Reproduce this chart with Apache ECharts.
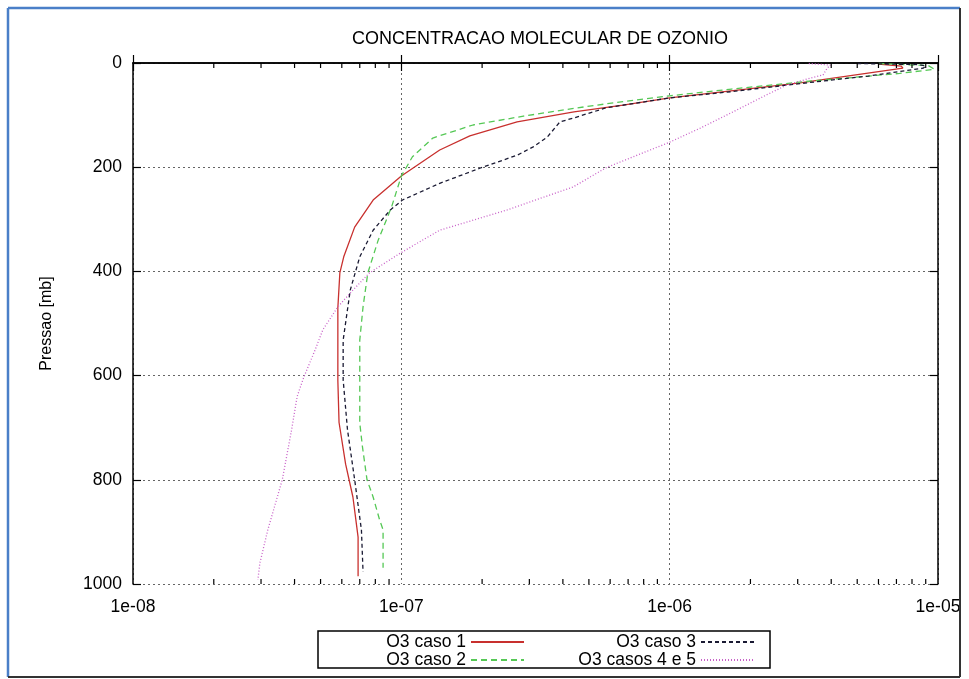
<!DOCTYPE html>
<html><head><meta charset="utf-8">
<script src="https://cdn.jsdelivr.net/npm/echarts@6/dist/echarts.min.js"></script>
<style>html,body{margin:0;padding:0;background:#fff}#c{width:969px;height:679px}</style>
</head><body><div id="c"></div>
<script>
const titleText = 'CONCENTRACAO MOLECULAR DE OZONIO';
const yAxisName = 'Pressao [mb]';
const xTickValues = [1e-8, 1e-7, 1e-6, 1e-5];
const xTickLabels = ['1e-08', '1e-07', '1e-06', '1e-05'];
const xMinorTicks = [2e-8,3e-8,4e-8,5e-8,6e-8,7e-8,8e-8,9e-8,
                     2e-7,3e-7,4e-7,5e-7,6e-7,7e-7,8e-7,9e-7,
                     2e-6,3e-6,4e-6,5e-6,6e-6,7e-6,8e-6,9e-6];
const seriesNames = ['O3 caso 1', 'O3 caso 2', 'O3 caso 3', 'O3 casos 4 e 5'];

const caso1P = [2, 6, 10, 20, 38, 50, 67, 81, 94, 113, 140, 167, 217, 263, 315, 372, 403, 470, 540, 610, 690, 770, 833, 910, 985];
const caso1X = [6.0e-6, 7.3e-6, 7.4e-6, 5.4e-6, 3.06e-6, 1.93e-6, 1.0e-6, 6.7e-7, 4.4e-7, 2.7e-7, 1.8e-7, 1.39e-7, 1.0e-7, 7.85e-8, 6.7e-8, 6.1e-8, 5.9e-8, 5.8e-8, 5.8e-8, 5.8e-8, 5.86e-8, 6.2e-8, 6.6e-8, 6.9e-8, 6.9e-8];

const caso2P = [1, 5, 12, 20, 35, 50, 63, 74, 87, 102, 119, 144, 180, 217, 276, 340, 403, 468, 532, 608, 691, 736, 800, 833, 877, 896, 969];
const caso2X = [6.0e-6, 9.2e-6, 9.7e-6, 7.2e-6, 3.3e-6, 1.7e-6, 1.0e-6, 6.7e-7, 4.4e-7, 2.85e-7, 1.85e-7, 1.31e-7, 1.1e-7, 1.0e-7, 9.2e-8, 8.2e-8, 7.5e-8, 7.2e-8, 7.0e-8, 7.0e-8, 7.0e-8, 7.16e-8, 7.45e-8, 7.85e-8, 8.3e-8, 8.55e-8, 8.55e-8];

const caso3P = [1, 3, 6, 10, 25, 40, 55, 67, 86, 106, 113, 142, 161, 177, 202, 231, 263, 282, 321, 372, 436, 532, 608, 704, 800, 896, 977];
const caso3X = [5.0e-6, 8.5e-6, 9.0e-6, 8.8e-6, 5.5e-6, 3.0e-6, 1.7e-6, 1.0e-6, 5.8e-7, 4.36e-7, 3.9e-7, 3.5e-7, 3.1e-7, 2.7e-7, 1.96e-7, 1.39e-7, 1.01e-7, 9.1e-8, 7.85e-8, 7.0e-8, 6.45e-8, 6.07e-8, 6.07e-8, 6.3e-8, 6.7e-8, 7.1e-8, 7.2e-8];

const caso45P = [1, 4, 10, 23, 29, 42, 61, 94, 125, 152, 200, 238, 282, 321, 365, 403, 436, 468, 512, 551, 603, 640, 704, 800, 896, 960, 992];
const caso45X = [3.3e-6, 3.97e-6, 3.86e-6, 3.73e-6, 3.34e-6, 2.74e-6, 2.3e-6, 1.72e-6, 1.3e-6, 1.0e-6, 5.85e-7, 4.36e-7, 2.48e-7, 1.39e-7, 9.9e-8, 7.6e-8, 6.6e-8, 5.8e-8, 5.1e-8, 4.77e-8, 4.33e-8, 4.09e-8, 3.9e-8, 3.6e-8, 3.18e-8, 2.97e-8, 2.92e-8];

function pairs(xs, ps) { return xs.map((x, i) => [x, ps[i]]); }

const FONT = 'Liberation Sans, Arial, sans-serif';
const G = { left: 133, top: 63, width: 805, height: 521 };

function xLabel(v) {
  let best = 0, bd = Infinity;
  xTickValues.forEach((t, i) => { const d = Math.abs(Math.log10(t) - Math.log10(v)); if (d < bd) { bd = d; best = i; } });
  return xTickLabels[best];
}

const colors = ['#c8302e', '#55c855', '#1a1a33', '#c860c8'];
const dashes = ['solid', [6, 4], [4, 3], [1, 2]];
const datasets = [pairs(caso1X, caso1P), pairs(caso2X, caso2P), pairs(caso3X, caso3P), pairs(caso45X, caso45P)];

const axisLineStyle = { color: '#000', width: 1.5 };
const splitStyle = { show: true, lineStyle: { color: '#666', type: [2, 3], width: 1 } };

const chart = echarts.init(document.getElementById('c'));

const lineSeries = seriesNames.map((n, i) => ({
  name: n, type: 'line', data: datasets[i], showSymbol: false, symbol: 'none',
  xAxisIndex: 0, yAxisIndex: 0,
  lineStyle: { color: colors[i], width: 1.3, type: dashes[i] },
  itemStyle: { color: colors[i] },
  z: 3, silent: true, animation: false
}));

const legendPos = [
  { right: 444, top: 633 },
  { right: 444, top: 651 },
  { right: 214, top: 633 },
  { right: 214, top: 651 }
];
const legends = seriesNames.map((n, i) => ({
  data: [n], orient: 'horizontal', align: 'right', right: legendPos[i].right, top: legendPos[i].top,
  padding: 0, itemWidth: 53, itemHeight: 10, selectedMode: false,
  itemStyle: { opacity: 0 },
  textStyle: { fontFamily: FONT, fontSize: 17.5, color: '#000' }
}));

chart.setOption({
  animation: false,
  backgroundColor: '#fff',
  title: {
    text: titleText, left: 535, top: 25, textAlign: 'center',
    textStyle: { fontFamily: FONT, fontSize: 18, fontWeight: 'normal', color: '#000' }
  },
  legend: legends,
  grid: { left: G.left, top: G.top, width: G.width, height: G.height, containLabel: false },
  xAxis: [
    { type: 'log', logBase: 10, min: 1e-8, max: 1e-5, position: 'bottom',
      axisLine: { show: true, lineStyle: axisLineStyle },
      axisTick: { show: true, inside: true, length: 8, lineStyle: { color: '#000', width: 1.2 } },
      axisLabel: { margin: 14, fontFamily: FONT, fontSize: 17.5, color: '#000', formatter: xLabel },
      splitLine: splitStyle, minorTick: { show: false } },
    { type: 'log', logBase: 10, min: 1e-8, max: 1e-5, position: 'top',
      axisLine: { show: true, lineStyle: axisLineStyle },
      axisTick: { show: true, inside: true, length: 8, lineStyle: { color: '#000', width: 1.2 } },
      axisLabel: { show: false }, splitLine: { show: false } }
  ],
  yAxis: [
    { type: 'value', inverse: true, min: 0, max: 1000, interval: 200, position: 'left',
      name: yAxisName, nameLocation: 'middle', nameGap: 78, nameRotate: 90,
      nameTextStyle: { fontFamily: FONT, fontSize: 16, color: '#000' },
      axisLine: { show: true, lineStyle: axisLineStyle },
      axisTick: { show: true, inside: true, length: 8, lineStyle: { color: '#000', width: 1.2 } },
      axisLabel: { margin: 11, fontFamily: FONT, fontSize: 17.5, color: '#000', formatter: v => String(v) },
      splitLine: splitStyle },
    { type: 'value', inverse: true, min: 0, max: 1000, interval: 200, position: 'right',
      axisLine: { show: true, lineStyle: axisLineStyle },
      axisTick: { show: true, inside: true, length: 8, lineStyle: { color: '#000', width: 1.2 } },
      axisLabel: { show: false }, splitLine: { show: false } }
  ],
  graphic: [
    { type: 'line', shape: { x1: 8, y1: 8, x2: 8, y2: 677 }, style: { stroke: '#4a7fc8', lineWidth: 2.5 }, z: 10 },
    { type: 'line', shape: { x1: 8, y1: 8, x2: 960, y2: 8 }, style: { stroke: '#4a7fc8', lineWidth: 2.5 }, z: 10 },
    { type: 'line', shape: { x1: 960, y1: 8, x2: 960, y2: 677 }, style: { stroke: '#333', lineWidth: 2 }, z: 10 },
    { type: 'line', shape: { x1: 8, y1: 677, x2: 960, y2: 677 }, style: { stroke: '#333', lineWidth: 2 }, z: 10 },
    { type: 'rect', shape: { x: 318, y: 631, width: 452, height: 37 }, style: { fill: 'none', stroke: '#000', lineWidth: 1.5 }, z: 10 }
  ],
  series: lineSeries.concat([{
    type: 'custom', xAxisIndex: 0, yAxisIndex: 0, silent: true, clip: false, z: 4,
    data: xMinorTicks.map(v => [v]),
    encode: { x: 0 },
    renderItem: function (params, api) {
      const v = api.value(0);
      const top = api.coord([v, 0]);
      const bot = api.coord([v, 1000]);
      const st = { stroke: '#000', lineWidth: 1.2 };
      return { type: 'group', children: [
        { type: 'line', shape: { x1: top[0], y1: top[1], x2: top[0], y2: top[1] + 5 }, style: st },
        { type: 'line', shape: { x1: bot[0], y1: bot[1], x2: bot[0], y2: bot[1] - 5 }, style: st }
      ] };
    }
  }])
});
</script>
</body></html>
